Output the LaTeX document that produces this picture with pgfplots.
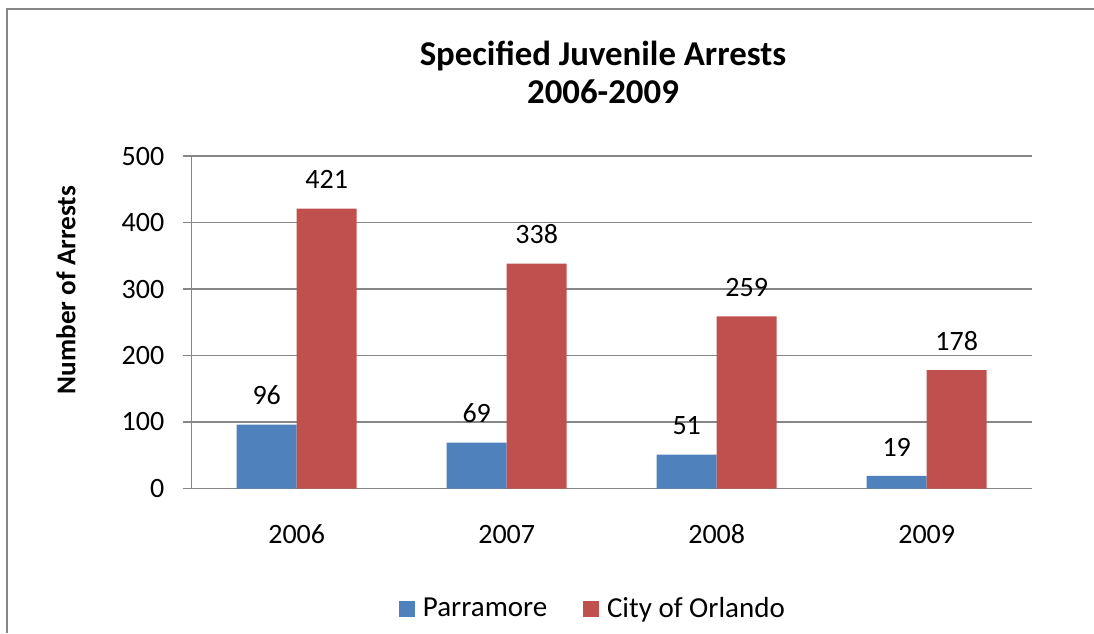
\documentclass[border=0pt]{standalone}
\usepackage{pgfplots}
\pgfplotsset{compat=1.18}
\usepackage{fontspec}
\setmainfont{Carlito}

\definecolor{pblue}{HTML}{4F81BD}
\definecolor{pred}{HTML}{C0504D}
\definecolor{lgray}{HTML}{868686}

\begin{document}
\begin{tikzpicture}
  % outer chart frame (right and bottom edges are cut off in the reference)
  \draw[lgray, line width=1pt] (3.5pt,-316.5pt) -- (3.5pt,-4.5pt) -- (547pt,-4.5pt);

  \node[font=\fontsize{17.4}{20}\selectfont\bfseries, anchor=base] at (301.5pt,-32.5pt) {Specified Juvenile Arrests};
  \node[font=\fontsize{17.4}{20}\selectfont\bfseries, anchor=base] at (301.5pt,-51.5pt) {2006-2009};
  \node[font=\fontsize{13.6}{16}\selectfont\bfseries, rotate=90] at (33pt,-145pt) {Number of Arrests};

  \begin{axis}[
    at={(95.85pt,-244.25pt)}, anchor=south west,
    scale only axis,
    width=420pt, height=166.25pt,
    ybar=0pt, bar width=0.2857,
    xmin=-0.5, xmax=3.5,
    ymin=0, ymax=500,
    ytick={0,100,...,500},
    xtick={0,1,2,3},
    xticklabels={2006,2007,2008,2009},
    axis x line*=bottom, axis y line*=left,
    axis line style={lgray, line width=0.75pt},
    ymajorgrids,
    grid style={lgray, line width=0.75pt},
    major x tick style={draw=none},
    major y tick style={lgray, line width=0.75pt},
    tick align=outside, major tick length=4.5pt,
    /pgf/number format/assume math mode=true,
    ticklabel style={font=\fontsize{14}{17}\selectfont},
    yticklabel style={anchor=east, inner sep=0pt, xshift=-9pt},
    xticklabel style={anchor=base, inner sep=0pt, yshift=-23pt},
    nodes near coords,
    nodes near coords style={font=\fontsize{14}{17}\selectfont, anchor=south, inner sep=0pt, yshift=9.6pt},
    legend columns=2,
    legend style={draw=none, at={(0.479,-0.362)}, anchor=center,
      font=\fontsize{14.5}{17}\selectfont,
      /tikz/every odd column/.append style={column sep=2pt},
      /tikz/every even column/.append style={column sep=16pt}},
    legend image code/.code={\fill[#1] (0pt,-3.9pt) rectangle (7.85pt,3.9pt);},
  ]
    \addplot[fill=pblue, draw=none] coordinates {(0,96) (1,69) (2,51) (3,19)};
    \addplot[fill=pred, draw=none] coordinates {(0,421) (1,338) (2,259) (3,178)};
    \legend{Parramore, City of Orlando}
  \end{axis}

  \pgfresetboundingbox
  \useasboundingbox (0pt,0pt) rectangle (547pt,-316.5pt);
\end{tikzpicture}
\end{document}
